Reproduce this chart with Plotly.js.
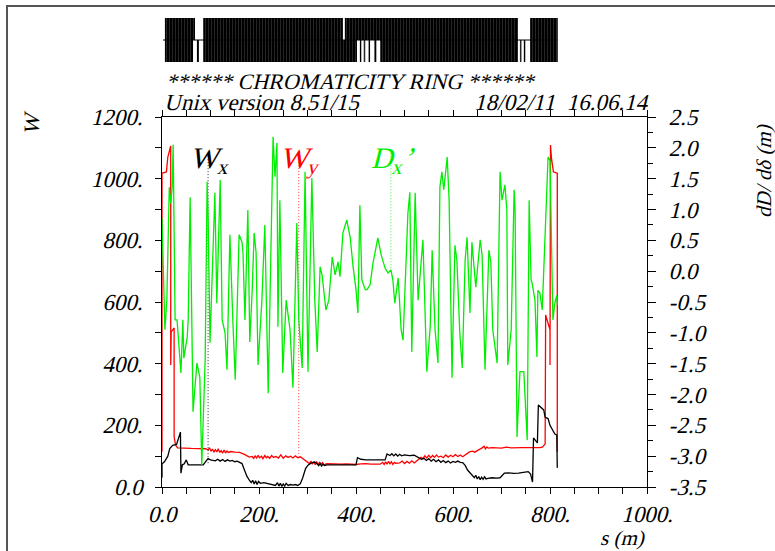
<!DOCTYPE html>
<html><head><meta charset="utf-8">
<script src="https://cdn.plot.ly/plotly-3.0.1.min.js"></script>
<style>html,body{margin:0;padding:0;background:#fff}#plot{width:775px;height:551px}</style>
</head><body><div id="plot"></div>
<script>
// ---- data ----
const wxS = [0,0,5,12,16,22,30,32,38,39,42,46,50,54,85,90,95,100,110,115,120,125,130,135,140,145,150,155,160,165,170,175,180,184,187,190,193,196,199,203,210,220,228,234,238,241,244,247,250,253,256,260,265,270,275,280,285,290,296,301,308,315,320,323,326,329,332,335,340,360,380,400,403,410,420,430,440,455,460,464,470,474,478,482,486,490,494,500,510,520,528,535,540,545,550,555,560,565,570,575,580,585,590,595,600,605,610,615,620,625,630,635,640,644,647,650,653,656,659,662,665,668,672,680,690,697,702,706,715,725,735,745,755,760,764,766,774,776,784,787,790,796,800,806,810,814,815];
const wxW = [30,75,82,100,125,135,138,150,178,45,72,75,88,72,72,82,92,88,85,90,84,89,83,88,84,86,82,84,80,76,55,35,22,14,22,10,20,8,18,12,14,10,8,5,14,3,12,2,10,3,12,5,8,6,8,5,10,29,60,71,78,81,75,69,76,68,74,70,72,72,72,72,95,90,88,88,89,88,88,107,102,108,101,107,100,106,101,104,102,103,96,90,93,86,92,84,90,82,88,80,86,79,84,78,83,80,84,80,79,70,55,45,35,30,38,26,34,24,32,25,33,26,28,30,29,30,38,45,46,44,45,47,50,42,16,159,143,266,256,250,226,222,200,185,172,169,62];

const wyS = [0,0,9,12,18,18,19,25,25,28,32,60,80,90,95,98,101,104,107,110,113,116,119,122,125,128,131,134,137,142,150,160,170,176,180,186,189,192,195,198,201,205,208,212,215,218,222,226,230,235,240,245,250,255,260,265,270,275,280,285,290,295,300,304,307,310,313,316,319,322,325,328,331,334,340,350,360,370,380,390,400,410,420,430,440,450,455,458,461,464,467,470,473,476,479,482,490,495,500,505,510,515,520,525,530,534,538,542,546,550,554,558,562,566,570,575,580,585,590,595,600,605,610,615,620,625,630,634,640,645,650,655,660,664,667,670,673,680,700,710,720,740,760,780,785,790,791,800,800,801,803,807,814,815,815];
const wyW = [114,1018,1022,1070,1106,396,503,516,162,136,127,125,125,124,120,127,116,123,113,121,114,124,112,118,110,120,110,117,112,115,113,112,106,100,97,99,93,101,94,103,95,100,92,102,95,99,93,102,96,99,94,104,93,101,96,100,94,101,95,98,92,86,82,76,84,74,82,72,81,74,80,73,79,72,76,75,74,74,75,74,73,75,76,74,75,74,80,73,82,74,83,75,82,73,80,77,78,84,76,83,77,85,78,84,90,96,92,101,94,103,95,102,96,104,97,100,95,104,97,103,98,105,99,104,98,103,110,114,116,113,118,122,127,132,124,130,126,128,126,129,127,128,127,128,130,140,558,510,396,1109,1067,1022,1018,1018,114];

const dxS = [0,2,6,10,15,18,21,23,27,31,39,43,45,52,54,58,64,72,78,82,89,93,95,99,105,109,113,120,124,130,134,140,146,151,159,165,167,171,177,181,186,190,194,198,206,212,219,229,233,237,239,243,249,256,264,270,278,282,289,295,301,309,315,320,326,330,338,344,351,357,363,367,373,377,381,384,388,394,400,404,408,412,419,423,429,435,445,452,460,466,472,476,480,487,493,497,503,507,511,515,522,528,538,546,553,557,563,569,573,577,581,588,592,598,600,604,608,614,619,625,629,635,639,643,647,656,660,666,674,678,682,691,697,701,707,711,713,720,726,728,732,738,746,753,757,761,763,769,773,775,779,784,794,796,800,804,806,810,814,815];
const dxD = [0.86,0.07,-0.95,-0.47,1.36,1.10,1.36,2.05,-0.79,-0.79,-1.65,-0.79,-1.41,-1.07,-0.79,1.20,-2.28,-1.49,-1.72,-3.14,-1.44,1.45,0.91,-1.16,0.34,1.27,-0.52,1.48,-0.79,-1.00,-1.60,0.59,-0.79,-1.76,0.59,0.47,0.30,-0.79,0.99,-1.15,-0.30,0.62,0.30,-1.52,-0.47,0.75,-1.98,2.18,1.53,2.08,-0.90,1.15,-1.65,-0.47,-0.95,-1.89,0.78,-0.79,-1.57,1.61,-1.63,1.51,-0.47,-1.31,0.07,-0.06,-0.63,-0.47,0.23,-0.06,0.15,-0.09,0.62,0.75,0.83,0.70,0.55,0.07,-0.30,-0.68,1.07,-0.14,-0.30,-0.30,-0.22,0.13,0.54,0.26,0.05,-0.03,0.02,-0.14,-0.52,-0.11,-0.95,-1.12,0.30,0.94,1.28,-1.31,1.27,-0.47,0.51,-1.63,-0.90,0.34,-0.95,-1.49,1.36,1.61,1.32,1.85,1.15,-1.73,-0.95,0.42,0.18,-1.00,-1.57,0.18,0.55,-0.68,0.47,0.02,-0.26,0.51,0.26,-1.60,0.34,0.15,-0.95,-1.49,1.61,1.15,1.40,0.99,-1.52,-0.95,1.32,0.99,-2.69,-1.63,-1.63,-2.74,1.15,-0.14,-0.19,-0.47,-1.39,-0.31,-0.35,-0.63,1.56,1.85,1.80,-0.31,-0.79,-0.52,-0.39,-0.55];

// curve labels: s position, label, top and bottom of pointer line
const labelS = [95, 282, 472];
const labelText = ['W<sub>x</sub>', 'W<sub>y</sub>', 'D<sub>x</sub>’'];
const pointerTop = [1073, 1073, 1.96];
const pointerBottom = [71, 104, 0.02];

// lattice elements (s ranges, m)
const upperStart = [6, 85, 377, 759];
const upperEnd   = [68, 373, 734, 816];
const lowerStart = [6, 72, 85, 408, 416, 426, 438, 450, 738, 746, 759];
const lowerEnd   = [64, 76, 402, 411, 419, 429, 442, 734, 741, 749, 816];
const ringLength = [2, 815];

// tick labels
const xTickVals = [0,200,400,600,800,1000];
const xTickText = ['0.0','200.','400.','600.','800.','1000.'];
const yTickVals = [0,200,400,600,800,1000,1200];
const yTickText = ['0.0','200.','400.','600.','800.','1000.','1200.'];
const y2TickVals = [-3.5,-3.0,-2.5,-2.0,-1.5,-1.0,-0.5,0.0,0.5,1.0,1.5,2.0,2.5];
const y2TickText = ['-3.5','-3.0','-2.5','-2.0','-1.5','-1.0','-0.5','0.0','0.5','1.0','1.5','2.0','2.5'];

// ---- drawing ----
const FONT = 'Liberation Serif';
const colors = ['#000000', '#ff0000', '#00ee00'];

const traces = [];
traces.push({x: dxS, y: dxD, yaxis: 'y2', mode: 'lines', line: {color: colors[2], width: 1.3}, hoverinfo: 'skip'});
traces.push({x: wyS, y: wyW, mode: 'lines', line: {color: colors[1], width: 1.3}, hoverinfo: 'skip'});
traces.push({x: wxS, y: wxW, mode: 'lines', line: {color: colors[0], width: 1.3}, hoverinfo: 'skip'});
for (let i = 0; i < 3; i++) {
  traces.push({x: [labelS[i], labelS[i]], y: [pointerTop[i], pointerBottom[i]], yaxis: i === 2 ? 'y2' : 'y',
    mode: 'lines', line: {color: colors[i], width: 1, dash: '1px,2px'}, opacity: 0.8, hoverinfo: 'skip'});
}
const pat = {shape: '|', fillmode: 'overlay', fgcolor: '#ffffff', size: 3, solidity: 0.1};
traces.push({type: 'bar', x: upperStart.map((s, i) => (s + upperEnd[i]) / 2), width: upperStart.map((s, i) => upperEnd[i] - s),
  y: upperStart.map(() => 1), base: 0, yaxis: 'y3', marker: {color: '#000', line: {width: 0}, pattern: pat}, hoverinfo: 'skip'});
traces.push({type: 'bar', x: lowerStart.map((s, i) => (s + lowerEnd[i]) / 2), width: lowerStart.map((s, i) => lowerEnd[i] - s),
  y: lowerStart.map(() => 1), base: -1, yaxis: 'y3', marker: {color: '#000', line: {width: 0}, pattern: pat}, hoverinfo: 'skip'});
traces.push({x: ringLength, y: [0, 0], yaxis: 'y3', mode: 'lines', line: {color: '#000', width: 1}, hoverinfo: 'skip'});

// geometry helpers (pixels -> paper)
const L = 162, R = 128, T = 10, B = 64, W = 775, H = 551;
const pw = W - L - R, ph = H - T - B;
const px = v => (v - L) / pw;
const py = v => (H - B - v) / ph;

const tf = {family: FONT, size: 23, color: '#000'};
const af = (sz, c) => ({family: FONT, size: sz, color: c || '#000'});
const annotations = [
  {text: '****** CHROMATICITY RING ******', xref: 'paper', yref: 'paper', x: px(350), y: py(82), xanchor: 'center', yanchor: 'middle', showarrow: false, font: af(22)},
  {text: 'Unix version 8.51/15', xref: 'paper', yref: 'paper', x: px(162), y: py(103), xanchor: 'left', yanchor: 'middle', showarrow: false, font: af(23)},
  {text: '18/02/11\u00a0\u00a016.06.14', xref: 'paper', yref: 'paper', x: px(649), y: py(103), xanchor: 'right', yanchor: 'middle', showarrow: false, font: af(23)},
  {text: 'W', xref: 'paper', yref: 'paper', x: px(32), y: py(125), textangle: -90, xanchor: 'center', yanchor: 'middle', showarrow: false, font: af(22)},
  {text: 'dD/ dδ (m)', xref: 'paper', yref: 'paper', x: px(764), y: py(172), textangle: -90, xanchor: 'center', yanchor: 'middle', showarrow: false, font: af(21)},
  {text: 's (m)', xref: 'paper', yref: 'paper', x: px(622), y: py(538), xanchor: 'center', yanchor: 'middle', showarrow: false, font: af(21)},
];
for (let i = 0; i < 3; i++) {
  annotations.push({text: labelText[i], xref: 'x', yref: 'paper', x: labelS[i], y: py(160), xanchor: 'center', yanchor: 'middle', xshift: 1,
    showarrow: false, font: af(30, colors[i])});
}

const layout = {
  width: W, height: H, margin: {l: L, r: R, t: T, b: B},
  paper_bgcolor: '#fff', plot_bgcolor: '#fff', showlegend: false, barmode: 'overlay',
  font: {family: FONT, color: '#000'},
  xaxis: {range: [0, 1000], tickvals: xTickVals, ticktext: xTickText, ticks: 'outside', ticklen: 6, tickwidth: 1, tickcolor: '#000',
    showline: true, linecolor: '#000', linewidth: 1, mirror: 'ticks', showgrid: false, zeroline: false, tickfont: tf, ticklabelstandoff: 0,
    minor: {dtick: 50, ticks: 'outside', ticklen: 6, tickcolor: '#000', showgrid: false}, anchor: 'y'},
  yaxis: {domain: [0, py(117)], range: [0, 1200], tickvals: yTickVals, ticktext: yTickText, ticks: 'outside', ticklen: 6, tickcolor: '#000',
    showline: true, linecolor: '#000', linewidth: 1, showgrid: false, zeroline: false, tickfont: tf, ticklabelstandoff: 8,
    minor: {dtick: 100, ticks: 'outside', ticklen: 6, tickcolor: '#000', showgrid: false}},
  yaxis2: {overlaying: 'y', side: 'right', anchor: 'x', range: [-3.5, 2.5], tickvals: y2TickVals, ticktext: y2TickText, ticks: 'outside', ticklen: 8, tickcolor: '#000',
    showline: true, linecolor: '#000', linewidth: 1, showgrid: false, zeroline: false, tickfont: tf, ticklabelstandoff: 8,
    minor: {dtick: 0.25, ticks: 'outside', ticklen: 5, tickcolor: '#000', showgrid: false}},
  yaxis3: {domain: [py(62), py(18)], range: [-1, 1], visible: false, anchor: 'x', fixedrange: true},
  shapes: [{type: 'rect', xref: 'paper', yref: 'paper', x0: px(7), x1: px(800), y0: py(600), y1: py(6), line: {color: '#555', width: 2}, layer: 'below'}],
  annotations: annotations,
};
Plotly.newPlot('plot', traces, layout, {staticPlot: true}).then(gd => {
  // the installed Liberation Serif has no italic face: slant its upright glyphs like Times Italic
  gd.querySelectorAll('svg text').forEach(t => {
    const x = parseFloat(t.getAttribute('x')) || 0;
    const y = parseFloat(t.getAttribute('y')) || 0;
    const tr = t.getAttribute('transform') || '';
    t.setAttribute('transform', `${tr} translate(${x},${y}) skewX(-14) translate(${-x},${-y})`);
  });
});
</script>
</body></html>
